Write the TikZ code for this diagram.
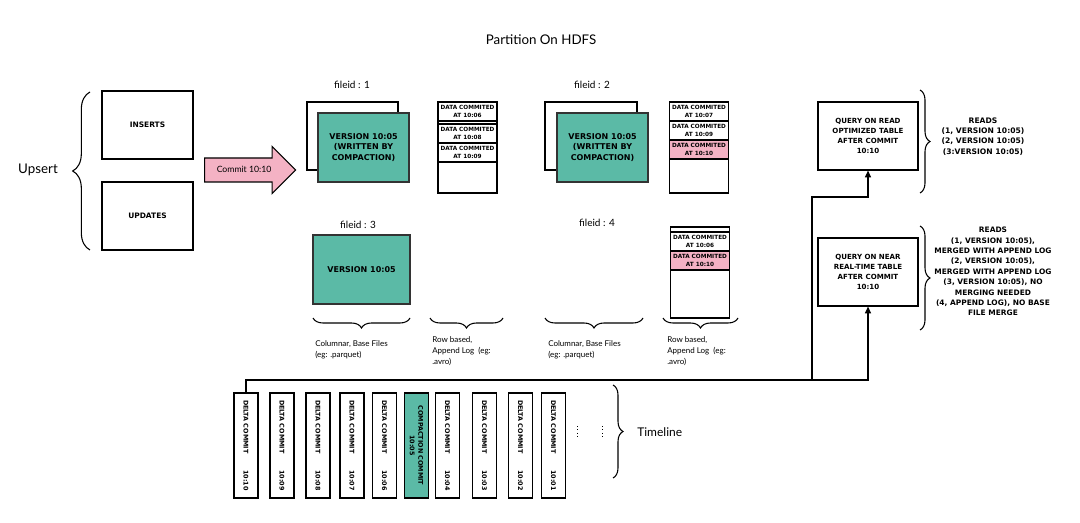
\documentclass[tikz,border=0pt]{standalone}
\usepackage{fontspec}
\setmainfont{Lato}
\newfontfamily\capsfont{DejaVu Sans}
\usetikzlibrary{arrows.meta,shapes.arrows,decorations.pathreplacing}

\definecolor{compteal}{RGB}{91,186,166}
\definecolor{commitpink}{RGB}{244,178,196}
\newcommand{\deltacommit}[1]{\makebox[68pt]{DELTA COMMIT\hfill #1}}

\tikzset{
  sketchbox/.style={draw, line width=0.9pt, inner sep=0pt, align=center},
  opbox/.style={sketchbox, minimum width=68.25pt, minimum height=51pt, font=\capsfont\bfseries\fontsize{5.6}{8}\selectfont},
  versionbox/.style={sketchbox, draw=black!80, line width=1.1pt, fill=compteal, minimum width=68.25pt, minimum height=51.75pt, font=\capsfont\bfseries\fontsize{6}{7.75}\selectfont},
  logbox/.style={sketchbox, minimum width=44.25pt, minimum height=68.25pt},
  logrow/.style={sketchbox, line width=1.1pt, minimum width=44.25pt, minimum height=14.25pt, font=\capsfont\bfseries\fontsize{4.3}{5.8}\selectfont},
  querybox/.style={sketchbox, minimum width=75pt, minimum height=51pt, font=\capsfont\bfseries\fontsize{5.3}{7.5}\selectfont},
  commitbox/.style={sketchbox, rotate=-90, minimum width=78.75pt, minimum height=18pt, font=\capsfont\bfseries\fontsize{4.8}{6.3}\selectfont},
  commitarrow/.style={single arrow, draw, line width=0.8pt, fill=commitpink, minimum height=68.25pt, single arrow head extend=8.6pt, text height=4.6pt, text depth=1.4pt, inner ysep=5.6pt, inner xsep=2pt, font=\fontsize{6.5}{8}\selectfont},
  curly/.style={decorate, decoration={brace, amplitude=#1}, line width=0.8pt},
  curly/.default=7.5pt,
  note/.style={inner sep=0pt, anchor=north west, align=left, font=\fontsize{6}{8.5}\selectfont},
  label/.style={inner sep=0.75pt, font=\fontsize{7.5}{9}\selectfont},
  readsnote/.style={inner sep=0pt, align=center, font=\capsfont\bfseries\fontsize{5.7}{7.75}\selectfont},
  feed/.style={line width=0.9pt, -{Triangle[length=5pt,width=4.5pt]}}
}

\begin{document}
\begin{tikzpicture}[x=0.75pt,y=0.75pt,yscale=-1,xscale=1]
	\path[use as bounding box, fill=white] (0,0) rectangle (1080,523);

	% Text Node
	\node[label, font=\fontsize{10}{12}\selectfont] (title) at (541,40) {Partition On HDFS};

	% Upsert
	\node[label, font=\fontsize{10}{12}\selectfont] (upsert) at (38,170) {Upsert};
	\node[opbox] (inserts) at (147.5,125) {INSERTS};
	\node[opbox] (updates) at (147.5,216) {UPDATES};
	\draw[curly=13pt] (90,250) -- (90,92);

	% Commit arrow
	\node[commitarrow, anchor=tail] (commit) at (204,170) {Commit 10:10};

	% fileid 1
	\node[label] (fid1) at (352,85) {fileid : 1};
	\node[sketchbox, minimum width=68.25pt, minimum height=51pt] (base1old) at (352.5,136) {};
	\node[versionbox] (base1) at (363.5,147.5) {VERSION 10:05\\(WRITTEN BY\\COMPACTION)};
	\node[logbox] (log1) at (467.5,147.5) {};
	\node[logrow] (log1a) at (467.5,111.5) {DATA COMMITED\\AT 10:06};
	\node[logrow] (log1b) at (467.5,133.5) {DATA COMMITED\\AT 10:08};
	\node[logrow] (log1c) at (467.5,152.5) {DATA COMMITED\\AT 10:09};

	% fileid 2
	\node[label] (fid2) at (592,85) {fileid : 2};
	\node[sketchbox, minimum width=69pt, minimum height=51pt] (base2old) at (591,136) {};
	\node[versionbox] (base2) at (602.5,147.5) {VERSION 10:05\\(WRITTEN BY\\COMPACTION)};
	\node[logbox] (log2) at (699,147.5) {};
	\node[logrow] (log2a) at (699,111.5) {DATA COMMITED\\AT 10:07};
	\node[logrow] (log2b) at (699,130.5) {DATA COMMITED\\AT 10:09};
	\node[logrow, fill=commitpink] (log2c) at (699,149.5) {DATA COMMITED\\AT 10:10};

	% fileid 3
	\node[label] (fid3) at (358,225) {fileid : 3};
	\node[versionbox, minimum width=72.75pt] (base3) at (361.5,269.5) {VERSION 10:05};

	% fileid 4
	\node[label] (fid4) at (597,223) {fileid : 4};
	\node[logbox] (log4) at (700,272.5) {};
	\node[logrow] (log4a) at (700,241.5) {DATA COMMITED\\AT 10:06};
	\node[logrow, fill=commitpink] (log4b) at (700,260.5) {DATA COMMITED\\AT 10:10};

	% File kinds
	\draw[curly] (410,318) -- (313,318);
	\draw[curly] (503,318) -- (430,318);
	\draw[curly] (643,318) -- (545,318);
	\draw[curly] (738,318) -- (663,318);
	\node[note] (cols1) at (315,340) {Columnar, Base Files\\(eg: .parquet)};
	\node[note] (rows1) at (432,336) {Row based,\\Append Log~ (eg:\\.avro)};
	\node[note] (cols2) at (548,340) {Columnar, Base Files\\(eg: .parquet)};
	\node[note] (rows2) at (667,336) {Row based,\\Append Log~ (eg:\\.avro)};

	% Queries
	\node[querybox] (ro) at (868,136) {QUERY ON READ\\OPTIMIZED TABLE\\AFTER COMMIT\\10:10};
	\node[querybox] (rt) at (868,272) {QUERY ON NEAR\\REAL-TIME TABLE\\AFTER COMMIT\\10:10};
	\draw[curly] (920,90) -- (920,193);
	\draw[curly] (920,226) -- (920,330);
	\node[readsnote] (reads1) at (983,136.5) {READS\\(1, VERSION 10:05)\\(2, VERSION 10:05)\\(3:VERSION 10:05)};
	\node[readsnote, font=\capsfont\bfseries\fontsize{5.6}{7.8}\selectfont] (reads2) at (993,271.5) {READS\\(1, VERSION 10:05),\\MERGED WITH APPEND LOG\\(2, VERSION 10:05),\\MERGED WITH APPEND LOG\\(3, VERSION 10:05), NO\\MERGING NEEDED\\(4, APPEND LOG), NO BASE\\FILE MERGE};

	% Timeline
	\node[commitbox] (c1010) at (246,445.5) {\deltacommit{10:10}};
	\node[commitbox] (c1009) at (282,445.5) {\deltacommit{10:09}};
	\node[commitbox] (c1008) at (318,445.5) {\deltacommit{10:08}};
	\node[commitbox] (c1007) at (352,445.5) {\deltacommit{10:07}};
	\node[commitbox] (c1006) at (384.5,445.5) {\deltacommit{10:06}};
	\node[commitbox, fill=compteal] (c1005) at (416.5,445.5) {COMPACTION COMMIT\\10:05};
	\node[commitbox] (c1004) at (447.5,445.5) {\deltacommit{10:04}};
	\node[commitbox] (c1003) at (484.5,445.5) {\deltacommit{10:03}};
	\node[commitbox] (c1002) at (520.5,445.5) {\deltacommit{10:02}};
	\node[commitbox] (c1001) at (553.5,445.5) {\deltacommit{10:01}};
	\draw[dotted, line width=0.6pt] (577,426) -- (577,437);
	\draw[dotted, line width=0.6pt] (602,426) -- (602,437);
	\draw[curly] (613,385) -- (613,478);
	\node[label, anchor=west, font=\fontsize{9}{11}\selectfont] (timeline) at (636,432) {Timeline};

	% Connection
	\coordinate (split) at (812,380);
	\coordinate (roturn) at (812,197);
	\draw[feed] (c1010.west) |- (split) -| (rt.south);
	\draw[feed] (split) -- (roturn) -| (ro.south);

\end{tikzpicture}
\end{document}
